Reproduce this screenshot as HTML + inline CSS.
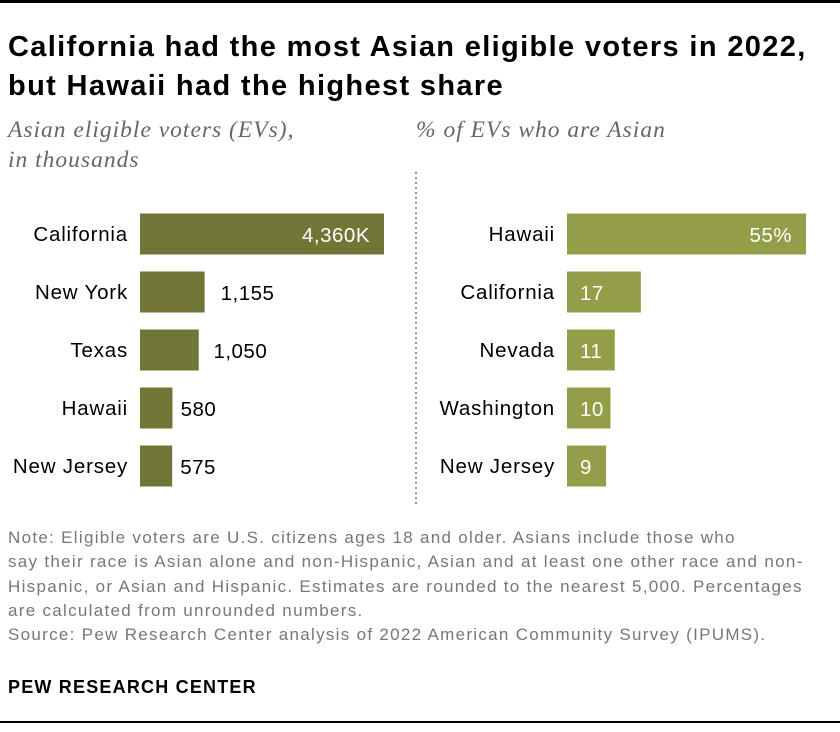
<!DOCTYPE html>
<html><head><meta charset="utf-8"><style>
body{margin:0;background:#fff;width:840px;height:732px;overflow:hidden;font-family:"Liberation Sans",sans-serif;position:relative}
.abs{position:absolute}
.t{left:8px;top:28px;font-size:29px;font-weight:bold;color:#000;line-height:39px;letter-spacing:1.35px;white-space:nowrap}
.sub{font-family:"Liberation Serif",serif;font-style:italic;font-size:23.5px;color:#666;line-height:30px;letter-spacing:1px;white-space:nowrap}
.note{left:8px;top:526px;font-size:17px;color:#777;line-height:24.3px;width:832px;letter-spacing:1.3px;white-space:nowrap}
</style></head><body>
<div class="abs" style="left:0;top:0;width:840px;height:3px;background:#000"></div>
<div class="abs t">California had the most Asian eligible voters in 2022,<br>but Hawaii had the highest share</div>
<div class="abs sub" style="left:8px;top:115px">Asian eligible voters (EVs),<br>in thousands</div>
<div class="abs sub" style="left:416px;top:115px">% of EVs who are Asian</div>
<svg class="abs" style="left:0;top:0" width="840" height="732" id="chart">
<line x1="416" y1="172" x2="416" y2="505" stroke="#999" stroke-width="2" stroke-dasharray="2,3"/>
</svg>
<div class="abs note">Note: Eligible voters are U.S. citizens ages 18 and older. Asians include those who<br>say their race is Asian alone and non-Hispanic, Asian and at least one other race and non-<br>Hispanic, or Asian and Hispanic. Estimates are rounded to the nearest 5,000. Percentages<br>are calculated from unrounded numbers.<br>Source: Pew Research Center analysis of 2022 American Community Survey (IPUMS).</div>
<div class="abs" style="left:8px;top:677px;font-size:18px;font-weight:bold;color:#000;letter-spacing:1.2px">PEW RESEARCH CENTER</div>
<div class="abs" style="left:0;top:721px;width:840px;height:2px;background:#000"></div>
<script>
const leftCats=["California","New York","Texas","Hawaii","New Jersey"];
const leftVals=[4360,1155,1050,580,575];
const leftLabels=["4,360K","1,155","1,050","580","575"];
const rightCats=["Hawaii","California","Nevada","Washington","New Jersey"];
const rightVals=[55,17,11,10,9];
const rightLabels=["55%","17","11","10","9"];
const svg=document.getElementById('chart');
const NS='http://www.w3.org/2000/svg';
function mk(tag,attrs,txt){const e=document.createElementNS(NS,tag);for(const k in attrs)e.setAttribute(k,attrs[k]);if(txt!=null)e.textContent=txt;svg.appendChild(e);return e;}
const rowY=i=>234+i*58;
function panel(cats,vals,labels,x0,w,max,color,side,inside){
  const sx=v=>v/max*w;
  cats.forEach((c,i)=>{
    const y=rowY(i),bw=sx(vals[i]);
    const lab=mk('text',{x:x0-12,y:y+7,'text-anchor':'end','font-size':20.5,'letter-spacing':0.8,fill:'#000'},c);
    
    
    const r=mk('rect',{x:x0,y:y-20.5,width:bw,height:41,fill:color});
    
    
    let t;
    if(i===0) t=mk('text',{x:x0+bw-14,y:y+8,'text-anchor':'end','font-size':20.5,'letter-spacing':0.5,fill:'#fff'},labels[i]);
    else if(inside) t=mk('text',{x:x0+13,y:y+8,'font-size':20.5,'letter-spacing':0.5,fill:'#fff'},labels[i]);
    else t=mk('text',{x:x0+bw+Math.max(7,Math.min(16,bw/4)),y:y+8,'font-size':20.5,'letter-spacing':0.5,fill:'#000'},labels[i]);
    
    
  });
}
panel(leftCats,leftVals,leftLabels,140,244,4360,'#717636','left',false);
panel(rightCats,rightVals,rightLabels,567,239,55,'#949d48','right',true);
</script>
</body></html>
